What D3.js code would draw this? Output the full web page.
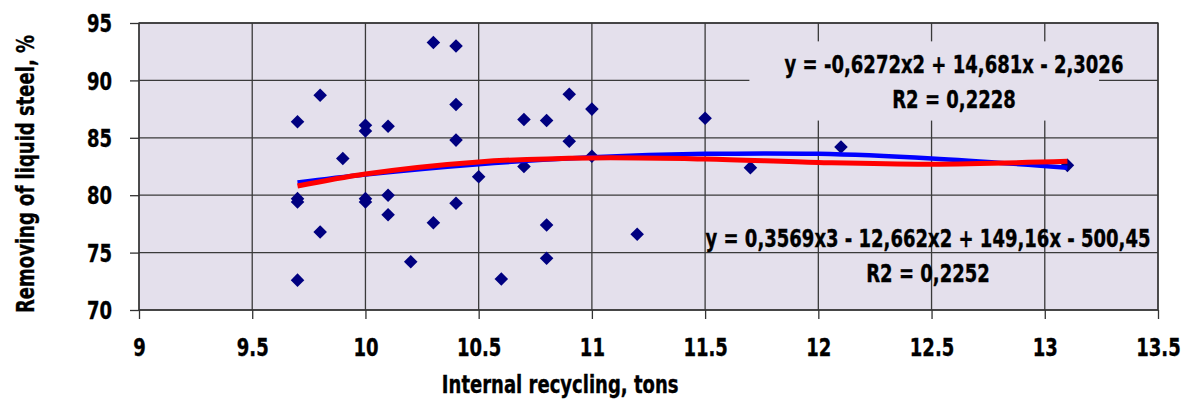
<!DOCTYPE html>
<html>
<head>
<meta charset="utf-8">
<script src="https://cdn.jsdelivr.net/npm/d3@7"></script>
<style>
  body { margin: 0; background: #fff; }
  svg text { font-family: "Liberation Sans Narrow", "DejaVu Sans Condensed", sans-serif; font-weight: bold; fill: #000; stroke: #000; stroke-width: 0.35px; }
</style>
</head>
<body>
<div id="chart"></div>
<script>
// observed points
var xVals = [9.7, 9.7, 9.7, 9.7, 9.8, 9.8, 9.9, 10, 10, 10, 10, 10.1, 10.1, 10.1, 10.2,
  10.3, 10.3, 10.4, 10.4, 10.4, 10.4, 10.5, 10.6, 10.7, 10.7, 10.8, 10.8, 10.8,
  10.9, 10.9, 11, 11, 11.2, 11.5, 11.7, 12.1, 13.1];
var yVals = [86.4, 79.7, 79.4, 72.6, 88.7, 76.8, 83.2, 86.1, 85.6, 79.7, 79.4, 86.0, 80.0, 78.3, 74.2,
  93.3, 77.6, 93.0, 87.9, 84.8, 79.3, 81.6, 72.7, 86.6, 82.5, 86.5, 77.4, 74.5,
  88.8, 84.7, 87.5, 83.4, 76.6, 86.7, 82.4, 84.2, 82.6];

// trend curves
var trendX = [9.7, 10, 10.5, 11, 11.5, 12, 12.5, 13.1];
var polyY2 = [81.1, 81.8, 82.7, 83.3, 83.6, 83.6, 83.2, 82.4];
var polyY3 = [80.8, 81.85, 82.9, 83.25, 83.15, 82.85, 82.7, 82.95];

var xTicks = [9, 9.5, 10, 10.5, 11, 11.5, 12, 12.5, 13, 13.5];
var yTicks = [70, 75, 80, 85, 90, 95];

var label2 = ["y = -0,6272x2 + 14,681x - 2,3026", "R2 = 0,2228"];
var label3 = ["y = 0,3569x3 - 12,662x2 + 149,16x - 500,45", "R2 = 0,2252"];

var W = 1189, H = 399;
var margin = {top: 23, right: 31, bottom: 89, left: 139};
var width = W - margin.left - margin.right,
    height = H - margin.top - margin.bottom;
var squeeze = 0.835;

var svg = d3.select("#chart").append("svg")
    .attr("width", W)
    .attr("height", H);
var g = svg.append("g")
    .attr("transform", "translate(" + margin.left + "," + margin.top + ")");

var x = d3.scaleLinear().domain([9, 13.5]).range([0, width]);
var y = d3.scaleLinear().domain([70, 95]).range([height, 0]);

g.append("rect")
  .attr("width", width).attr("height", height)
  .attr("fill", "#e4e0ec");

// grid
g.append("g").attr("class", "grid")
  .selectAll("line.h").data(yTicks).enter().append("line")
  .attr("x1", 0).attr("x2", width)
  .attr("y1", function(d){ return y(d); }).attr("y2", function(d){ return y(d); })
  .attr("stroke", "#3a3a3a").attr("stroke-width", 1.3);
g.select(".grid")
  .selectAll("line.v").data(xTicks).enter().append("line")
  .attr("y1", 0).attr("y2", height)
  .attr("x1", function(d){ return x(d); }).attr("x2", function(d){ return x(d); })
  .attr("stroke", "#3a3a3a").attr("stroke-width", 1.3);

g.append("rect")
  .attr("width", width).attr("height", height)
  .attr("fill", "none").attr("stroke", "#333").attr("stroke-width", 1.3);

// box behind the quadratic label
g.append("rect")
  .attr("x", x(11.7) - 1).attr("y", y(93.4))
  .attr("width", x(13.2) - x(11.7) + 10).attr("height", y(86.5) - y(93.4))
  .attr("fill", "#e4e0ec");

// axes
var xAxis = g.append("g")
  .attr("transform", "translate(0," + height + ")")
  .call(d3.axisBottom(x).tickValues(xTicks).tickSize(9).tickPadding(20).tickFormat(d3.format("")));
var yAxis = g.append("g")
  .call(d3.axisLeft(y).tickValues(yTicks).tickSize(9).tickPadding(18));
[xAxis, yAxis].forEach(function(a){
  a.select(".domain").remove();
  a.selectAll(".tick line").attr("stroke", "#333").attr("stroke-width", 1.3);
  a.selectAll(".tick text").style("font-size", "24px").attr("fill", "#000");
});
// condensed look: scale horizontally around the anchor
xAxis.selectAll(".tick text").attr("transform", "scale(" + squeeze + ",1)");
yAxis.selectAll(".tick text").attr("dy", "0.36em")
  .attr("x", -27 / squeeze)
  .attr("transform", "scale(" + squeeze + ",1)");

// trend lines
var line = function(ys){
  return d3.line().curve(d3.curveCatmullRom)
    .x(function(d, i){ return x(trendX[i]); })
    .y(function(d){ return y(d); })(ys);
};

// points
g.append("g").selectAll("path").data(xVals).enter().append("path")
  .attr("d", d3.symbol().type(d3.symbolSquare).size(92))
  .attr("transform", function(d, i){ return "translate(" + x(d) + "," + y(yVals[i]) + ") rotate(45)"; })
  .attr("fill", "#000080");

g.append("path").attr("d", line(polyY2))
  .attr("fill", "none").attr("stroke", "#0000ff").attr("stroke-width", 4.5);
g.append("path").attr("d", line(polyY3))
  .attr("fill", "none").attr("stroke", "#ff0000").attr("stroke-width", 5);

function narrowText(parent, s, tx, ty, rot){
  return parent.append("text")
    .attr("transform", "translate(" + tx + "," + ty + ")" + (rot ? " rotate(" + rot + ")" : "") + " scale(" + squeeze + ",1)")
    .attr("text-anchor", "middle").style("font-size", "24px")
    .text(s);
}

// equation labels
function eqLabel(lines, cx, y0){
  lines.forEach(function(s, i){
    narrowText(g, s, cx, y0 + i * 35);
  });
}
eqLabel(label2, 954 - margin.left, 73 - margin.top);
eqLabel(label3, 928 - margin.left, 247 - margin.top);

// axis titles
narrowText(svg, "Internal recycling, tons", margin.left + x(10.86), 393);
narrowText(svg, "Removing of liquid steel, %", 34, 174, -90);
</script>
</body>
</html>
